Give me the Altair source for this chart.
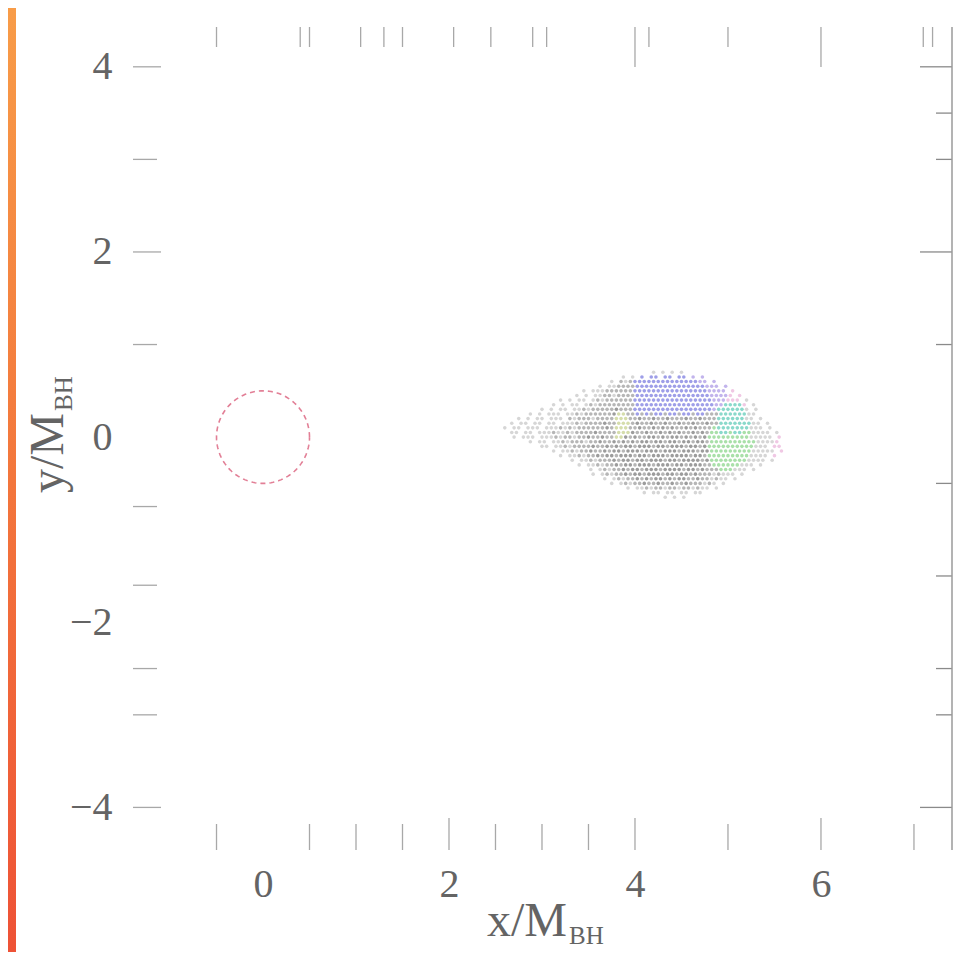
import altair as alt
import pandas as pd
import numpy as np

# ---------------- data ----------------
X_DOMAIN = [-1.398, 7.409]
Y_DOMAIN = [-4.46, 4.43]
X_LABELS = [0, 2, 4, 6]
Y_LABELS = [4, 2, 0, -2, -4]
# tick marks as they appear on each side of the frame
X_BOTTOM_MAJOR = [2, 4, 6]
X_BOTTOM_MINOR = [-0.5, 0.5, 1.0, 1.5, 2.5, 3.0, 3.5, 5.0, 7.0]
X_TOP_MAJOR = [4, 6]
X_TOP_MINOR = [-0.5, 0.4, 0.5, 1.05, 1.3, 1.5, 2.05, 2.45, 2.9, 3.05, 4.15, 5.0, 7.1, 7.2]
Y_LEFT_MAJOR = [4, 2, -4]
Y_LEFT_MINOR = [3.0, 1.0, -0.75, -1.6, -2.5, -3.0]
Y_RIGHT_MAJOR = [4, 2, -4]
Y_RIGHT_MINOR = [3.5, 3.0, 1.0, -0.5, -1.5, -2.5, -3.0]

X_TITLE_MAIN = "x/M"
X_TITLE_SUB = "BH"
Y_TITLE_MAIN = "y/M"
Y_TITLE_SUB = "BH"

# horizon (red dashed circle)
CIRCLE_CENTER_X = 0.0
CIRCLE_CENTER_Y = 0.0
CIRCLE_RADIUS = 0.5

# particle cloud, read as a character map (grid step 0.05, first row y=0.70, first column x=2.60)
# . empty, a light grey, m grey, d dark grey, b blue, l lavender, t teal, g green, y olive, p pink
CLOUD_X0 = 2.60
CLOUD_Y0 = 0.70
CLOUD_STEP = 0.05
CLOUD_ROWS = [
    ".........." ".........." ".........." "..a.a.a.a." ".........." ".........." ".",
    ".........." ".........." ".....a.a.b" ".bb.bb.bb." "l.l......." ".........." ".",
    ".........." ".........." "...a.mambb" "bbbbbbbbbb" "bbll.l...." ".........." ".",
    ".........." ".........." "a.aammmmbb" "bbbbbbbbbb" "bbblll.l.." ".........." ".",
    ".........." ".......a.a" "aammmmmmbb" "bbbbbbbbbb" "bbbbllll.p" ".........." ".",
    ".........." ".....a.a.a" "ammammmmbb" "bbbbbbbbbb" "bbbbllllp." "p........." ".",
    ".........." "..a.a.aa.a" "mammmmmmbb" "bbbbbbbbbb" "bbbbblllpp" "p.a......." ".",
    ".........." "a.a.aa.ama" "mmmmmmmmbb" "bbbbbbbbbb" "bbbbbllttt" "tp.a......" ".",
    "........a." "a.aa.aamam" "mmmmdmmmbb" "bbbbbbbbbb" "bbbbbltttt" "tta.a....." ".",
    ".....a.a.a" "aa.aamammm" "mmmdyymmbm" "bmbbmbbmbb" "mbbmmmtttt" "ttaa......" ".",
    "...a.a.aa." "aaa.mammma" "mmmmyyymmd" "mmdmmdmmmd" "mmdmmmtttt" "ttaa.a...." ".",
    ".a.aa.aa.a" "a.aaamammm" "mdmmyyymdm" "mdmmdmmdmm" "dmmdmmtttt" "tttaa.a..." ".",
    "a.aa.aaa.a" "aamamammmm" "mmdmyyymmd" "mmdmdmdmmd" "mdmmmgtttt" "tttaaa.a.." ".",
    ".aa.aa.aaa" "maamammmmd" "mmmmyyydmm" "dmmdmdmdmm" "dmdmggttgt" "tggaaaa.a." ".",
    "..a.aaa.aa" "amammammdm" "mdmmyydmdm" "mddmdmddmd" "mdmdgggggg" "gggaaaaa.p" ".",
    ".....a.aa." "aamammmamm" "dmmdmdmdmd" "dmddmddmdd" "mddmgggggg" "ggggaaaap." ".",
    "........aa" ".aamammmmd" "mmdmdmddmd" "ddmddmdddm" "ddmdgggggg" "ggggaaa.pp" ".",
    ".........." "a.aamammdm" "mdmddmdddm" "dddmdddmdd" "dmddgggggg" "gggaaaaa.p" ".",
    ".........." "..a.aamamm" "dmddmdddmd" "dmdddmdddd" "mddmgggggg" "gggaaaa.p." ".",
    ".........." "....a.aama" "mmmdmddmdd" "mdddmddmdd" "ddmdgggggg" "ggaaaa.a.." ".",
    ".........." "......a.aa" "mammdmddmd" "ddmdddmddm" "dddmmggggg" "gaaa.a...." ".",
    ".........." "........a." "amammdmddm" "dddmddddmd" "dmdmmmggga" "aa.a......" ".",
    ".........." ".........a" ".amammdmdd" "mdddmddmdd" "mdmmmamaaa" ".a........" ".",
    ".........." ".........." ".a.amammdm" "dmddmdmddm" "mdmmamaa.a" ".........." ".",
    ".........." ".........." "...a.amamm" "dmmdmmdmmd" "mmmama.a.." ".........." ".",
    ".........." ".........." "......a.aa" "mammammamm" "amaa.a...." ".........." ".",
    ".........." ".........." ".........." "a.aa.aa.aa" ".aa......." ".........." ".",
    ".........." ".........." ".........." "....a.a.a." ".........." ".........." ".",
]
CLASS_KEYS = ["a", "m", "d", "b", "l", "t", "g", "y", "p"]
CLASS_COLORS = ["#d6d6d6", "#b6b6b6", "#9c9c9c", "#9e9ee8", "#c2b4ec",
                "#8ad9cb", "#a9e0a9", "#d5ddab", "#f0c8e4"]

# ---------------- layout / style ----------------
W, H = 819, 823
FONT = "Liberation Serif"
TEXT_COLOR = "#646464"
TICK_COLOR = "#a8a8a8"
MAJOR_LEN, MINOR_LEN = 32, 20

xs = alt.Scale(domain=X_DOMAIN, nice=False, zero=False)
ys = alt.Scale(domain=Y_DOMAIN, nice=False, zero=False)
X_AX = alt.Axis(values=X_LABELS, title="", grid=False, domain=False, ticks=False, tickSize=0,
                labelFont=FONT, labelFontSize=40, labelColor=TEXT_COLOR, labelPadding=14, format="d")
Y_AX = alt.Axis(values=Y_LABELS, title="", grid=False, domain=False, ticks=False, tickSize=0,
                labelFont=FONT, labelFontSize=40, labelColor=TEXT_COLOR, labelPadding=21, format="d")

# cloud points
recs = []
for r, row in enumerate(CLOUD_ROWS):
    yv = CLOUD_Y0 - r * CLOUD_STEP
    shift = CLOUD_STEP / 2 if r % 2 else 0.0
    for c, ch in enumerate(row):
        if ch != ".":
            recs.append({"x": CLOUD_X0 + c * CLOUD_STEP + shift, "y": yv, "k": ch})
cloud_df = pd.DataFrame(recs)

points = alt.Chart(cloud_df).mark_circle(size=13, opacity=1).encode(
    x=alt.X("x:Q", scale=xs, axis=X_AX),
    y=alt.Y("y:Q", scale=ys, axis=Y_AX),
    color=alt.Color("k:N", scale=alt.Scale(domain=CLASS_KEYS, range=CLASS_COLORS), legend=None),
)

# circle
ang = np.linspace(0, 2 * np.pi, 145)
circ_df = pd.DataFrame({
    "x": CIRCLE_CENTER_X + CIRCLE_RADIUS * np.cos(ang),
    "y": CIRCLE_CENTER_Y + CIRCLE_RADIUS * np.sin(ang),
    "o": np.arange(len(ang)),
})
circle = alt.Chart(circ_df).mark_line(color="#e27f96", strokeWidth=1.6, strokeDash=[5, 4]).encode(
    x=alt.X("x:Q", scale=xs, axis=X_AX),
    y=alt.Y("y:Q", scale=ys, axis=Y_AX),
    order="o:Q",
)


def ticks(values, side, length, color=TICK_COLOR):
    df = pd.DataFrame({"v": values})
    base = alt.Chart(df).mark_rule(color=color, strokeWidth=1.3)
    if side == "bottom":
        return base.encode(x=alt.X("v:Q", scale=xs, axis=X_AX), y=alt.value(H), y2=alt.value(H - length))
    if side == "top":
        return base.encode(x=alt.X("v:Q", scale=xs, axis=X_AX), y=alt.value(0), y2=alt.value(length))
    if side == "left":
        return base.encode(y=alt.Y("v:Q", scale=ys, axis=Y_AX), x=alt.value(0), x2=alt.value(length))
    return base.encode(y=alt.Y("v:Q", scale=ys, axis=Y_AX), x=alt.value(W), x2=alt.value(W - length))


tick_layers = [
    ticks(X_BOTTOM_MAJOR, "bottom", MAJOR_LEN),
    ticks(X_BOTTOM_MINOR, "bottom", MINOR_LEN + 6),
    ticks(X_TOP_MAJOR, "top", MAJOR_LEN + 8),
    ticks(X_TOP_MINOR, "top", MINOR_LEN),
    ticks(Y_LEFT_MAJOR, "left", MAJOR_LEN - 4),
    ticks(Y_LEFT_MINOR, "left", MINOR_LEN + 4),
    ticks(Y_RIGHT_MAJOR, "right", MAJOR_LEN, "#8a8a8a"),
    ticks(Y_RIGHT_MINOR, "right", MINOR_LEN - 4, "#8a8a8a"),
]

one = pd.DataFrame({"k": [0]})
right_frame = alt.Chart(one).mark_rule(color="#9a9a9a", strokeWidth=1.5).encode(
    x=alt.value(W), y=alt.value(0), y2=alt.value(H))

# orange strip at the left edge of the picture
strip = alt.Chart(one).mark_rect(
    fill=alt.Gradient(gradient="linear",
                      stops=[alt.GradientStop(color="#f89c48", offset=0),
                             alt.GradientStop(color="#f3763c", offset=0.5),
                             alt.GradientStop(color="#ee5236", offset=1)],
                      x1=0, x2=0, y1=0, y2=1)
).encode(x=alt.value(-125), x2=alt.value(-117), y=alt.value(-19), y2=alt.value(H + 102))

# axis titles with subscripts
xt_main = alt.Chart(one).mark_text(text=X_TITLE_MAIN, font=FONT, fontSize=48, color=TEXT_COLOR,
                                   align="right", baseline="alphabetic").encode(
    x=alt.value(434), y=alt.value(909))
xt_sub = alt.Chart(one).mark_text(text=X_TITLE_SUB, font=FONT, fontSize=25, color=TEXT_COLOR,
                                  align="left", baseline="alphabetic").encode(
    x=alt.value(436), y=alt.value(917))
yt_main = alt.Chart(one).mark_text(text=Y_TITLE_MAIN, font=FONT, fontSize=48, color=TEXT_COLOR,
                                   align="right", baseline="alphabetic", angle=270).encode(
    x=alt.value(-70), y=alt.value(386))
yt_sub = alt.Chart(one).mark_text(text=Y_TITLE_SUB, font=FONT, fontSize=25, color=TEXT_COLOR,
                                  align="left", baseline="alphabetic", angle=270).encode(
    x=alt.value(-61), y=alt.value(384))

chart = alt.layer(
    points, circle, *tick_layers, right_frame, strip, xt_main, xt_sub, yt_main, yt_sub
).properties(
    width=W, height=H,
    autosize=alt.AutoSizeParams(type="none"),
    padding={"left": 125, "top": 19, "right": 13, "bottom": 102},
).configure_view(strokeWidth=0)

chart.save("out.html", embed_options={"renderer": "svg", "actions": False})
